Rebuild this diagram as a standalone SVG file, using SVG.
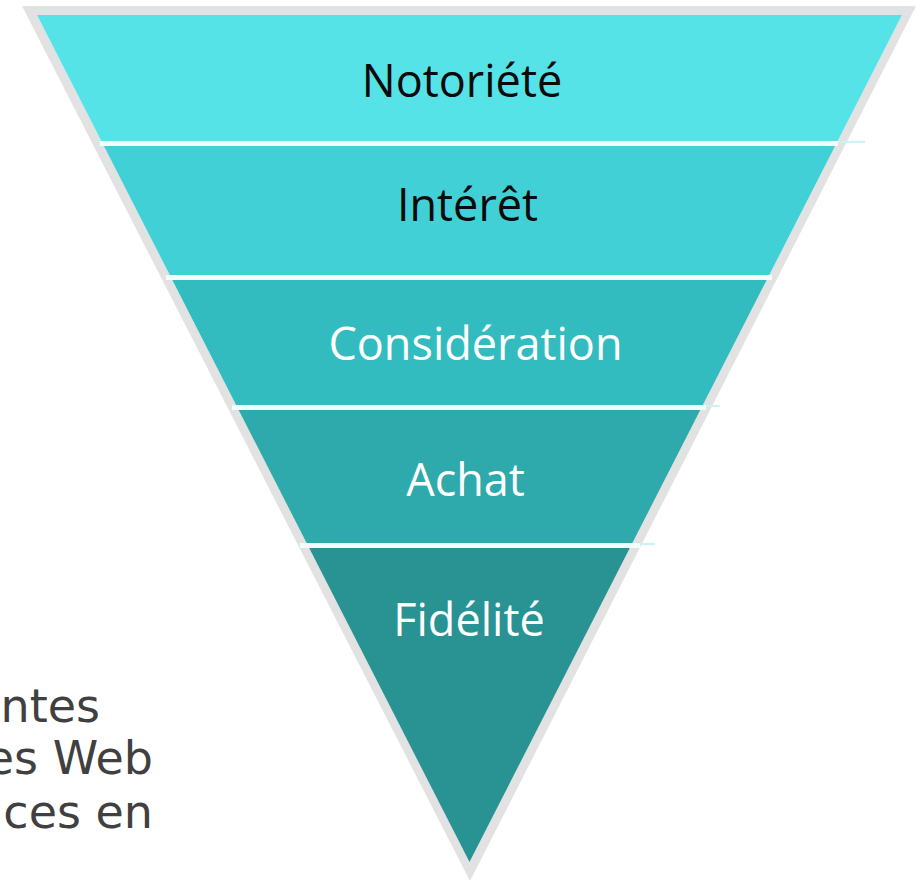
<svg xmlns="http://www.w3.org/2000/svg" width="917" height="882" viewBox="0 0 917 882">
  <defs>
    <clipPath id="inner">
      <polygon points="37,15 902,15 469.5,862"/>
    </clipPath>
    <style>
      .lbl { font-family: "Open Sans", "Liberation Sans", sans-serif; font-size: 45px; text-anchor: middle; }
      .dark { fill: #0a0a0a; }
      .light { fill: #ffffff; }
      .side { font-family: "DejaVu Sans", "Liberation Sans", sans-serif; font-size: 46px; fill: #404040; text-anchor: end; }
      .sep { stroke: #f4fdfd; stroke-width: 5; }
      .tail { stroke: #c9f3f5; stroke-width: 2; }
    </style>
  </defs>
  <rect width="917" height="882" fill="#ffffff"/>

  <g id="side-text">
    <text class="side" x="100" y="722">ntes</text>
    <text class="side" x="153" y="774">es Web</text>
    <text class="side" x="153" y="828">ces en</text>
  </g>

  <g id="funnel-frame">
    <polygon points="22,6 916,6 470,881" fill="#e2e2e2"/>
    <polygon points="37,15 902,15 469.5,862" fill="#f4fdfd"/>
  </g>

  <g clip-path="url(#inner)">
    <g id="band-notoriete">
      <rect x="0" y="15" width="917" height="126" fill="#55e3e8"/>
    </g>
    <g id="band-interet">
      <rect x="0" y="146" width="917" height="129" fill="#40d0d5"/>
    </g>
    <g id="band-consideration">
      <rect x="0" y="280" width="917" height="125" fill="#33bcc0"/>
    </g>
    <g id="band-achat">
      <rect x="0" y="410" width="917" height="133" fill="#2ea9ac"/>
    </g>
    <g id="band-fidelite">
      <rect x="0" y="548" width="917" height="320" fill="#299293"/>
    </g>
  </g>

  <g id="connectors">
    <line class="sep" x1="100" y1="143.5" x2="838" y2="143.5"/>
    <line class="sep" x1="166" y1="277.5" x2="772" y2="277.5"/>
    <line class="sep" x1="232" y1="407.5" x2="706" y2="407.5"/>
    <line class="sep" x1="300" y1="545.5" x2="640" y2="545.5"/>
    <line class="tail" x1="838" y1="142" x2="865" y2="142"/>
    <line class="tail" x1="706" y1="406" x2="720" y2="406"/>
    <line class="tail" x1="640" y1="544" x2="655" y2="544"/>
  </g>

  <g id="labels">
    <text class="lbl dark" x="462" y="97">Notoriété</text>
    <text class="lbl dark" x="467.5" y="221">Intérêt</text>
    <text class="lbl light" x="475.5" y="360">Considération</text>
    <text class="lbl light" x="465.5" y="496">Achat</text>
    <text class="lbl light" x="469" y="636">Fidélité</text>
  </g>
</svg>
